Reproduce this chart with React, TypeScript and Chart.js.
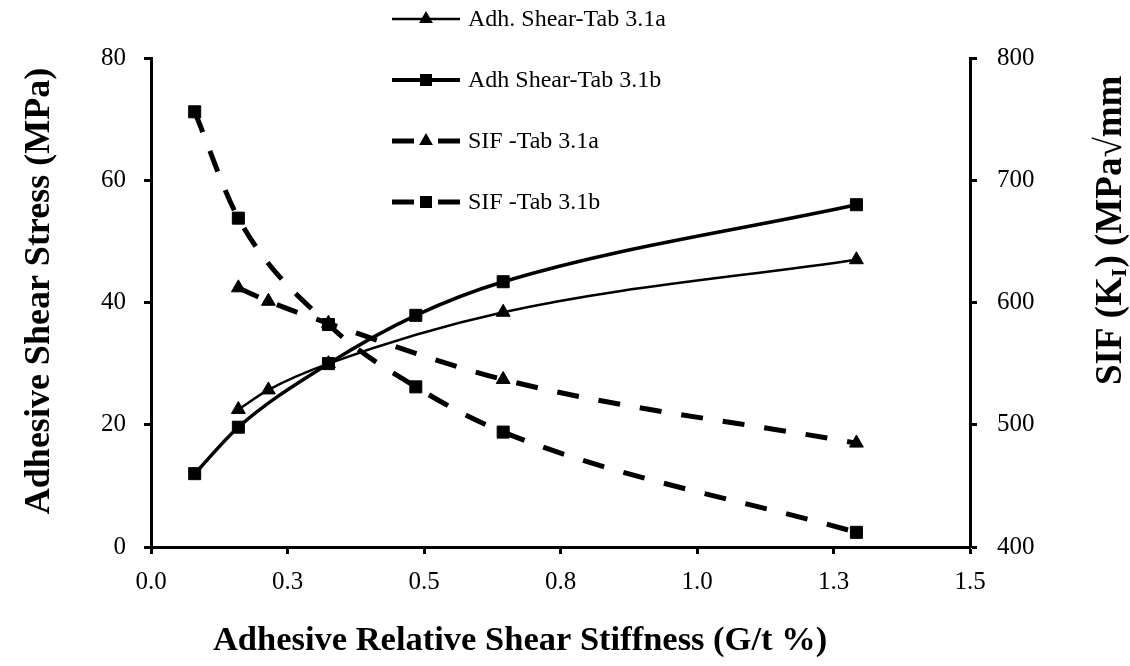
import React, { useEffect, useRef } from "react";
import { Chart, registerables } from "chart.js";

Chart.register(...registerables);

// ---- data ----
const xTab31b = [0.08, 0.16, 0.325, 0.485, 0.645, 1.292];
const adhShearTab31b = [12.0, 19.6, 30.0, 37.9, 43.4, 56.0];
const sifTab31b = [756, 669, 582, 531, 494, 412];

const xTab31a = [0.16, 0.215, 0.325, 0.645, 1.292];
const adhShearTab31a = [22.5, 25.7, 30.0, 38.4, 47.0];
const sifTab31a = [612, 601, 583, 537, 485];

const xTickLabels = ["0.0", "0.3", "0.5", "0.8", "1.0", "1.3", "1.5"];
const seriesLabels = [
  "Adh. Shear-Tab 3.1a",
  "Adh Shear-Tab 3.1b",
  "SIF -Tab 3.1a",
  "SIF -Tab 3.1b",
];
const xTitle = "Adhesive Relative Shear Stiffness (G/t %)";
const yLeftTitle = "Adhesive Shear Stress (MPa)";

const SERIF = "'Liberation Serif', 'Times New Roman', serif";

function pts(xs: number[], ys: number[]) {
  return xs.map((x, i) => ({ x, y: ys[i] }));
}

function drawMarker(ctx: CanvasRenderingContext2D, style: string, x: number, y: number) {
  ctx.fillStyle = "#000";
  if (style === "rect") {
    ctx.fillRect(x - 6, y - 6, 12, 12);
  } else {
    const r = 8;
    ctx.beginPath();
    ctx.moveTo(x, y - r);
    ctx.lineTo(x + r * 0.866, y + r * 0.5);
    ctx.lineTo(x - r * 0.866, y + r * 0.5);
    ctx.closePath();
    ctx.fill();
  }
}

const overlayPlugin = {
  id: "overlay",
  afterDraw(chart: any) {
    const ctx: CanvasRenderingContext2D = chart.ctx;
    ctx.save();
    ctx.fillStyle = "#000";
    ctx.strokeStyle = "#000";

    // X title
    ctx.font = `bold 34.5px ${SERIF}`;
    ctx.textAlign = "center";
    ctx.textBaseline = "middle";
    ctx.fillText(xTitle, 520, 641);

    // Left title
    ctx.save();
    ctx.font = `bold 36px ${SERIF}`;
    ctx.translate(40, 291);
    ctx.rotate(-Math.PI / 2);
    ctx.fillText(yLeftTitle, 0, 0);
    ctx.restore();

    // Right title: SIF (K_I) (MPa√mm
    ctx.save();
    ctx.translate(1111, 385);
    ctx.rotate(-Math.PI / 2);
    ctx.textAlign = "left";
    ctx.textBaseline = "middle";
    let cx = 0;
    const part1 = "SIF (K";
    ctx.font = `bold 37px ${SERIF}`;
    ctx.fillText(part1, cx, 0);
    cx += ctx.measureText(part1).width;
    ctx.font = `bold 22px ${SERIF}`;
    ctx.fillText("I", cx, 9);
    cx += ctx.measureText("I").width + 1;
    ctx.font = `bold 37px ${SERIF}`;
    const part2 = ") (MPa\u221Amm";
    ctx.fillText(part2, cx, 0);
    ctx.restore();

    // Legend
    const rows = [19, 80, 141, 202];
    const styles = [
      { dash: false, w: 2.5, marker: "triangle" },
      { dash: false, w: 4, marker: "rect" },
      { dash: true, w: 5, marker: "triangle" },
      { dash: true, w: 5, marker: "rect" },
    ];
    ctx.font = `24px ${SERIF}`;
    ctx.textAlign = "left";
    ctx.textBaseline = "middle";
    rows.forEach((y, i) => {
      const s = styles[i];
      ctx.lineWidth = s.w;
      ctx.lineCap = "butt";
      ctx.beginPath();
      if (s.dash) {
        ctx.moveTo(392, y);
        ctx.lineTo(414, y);
        ctx.moveTo(438, y);
        ctx.lineTo(460, y);
      } else {
        ctx.moveTo(392, y);
        ctx.lineTo(460, y);
      }
      ctx.stroke();
      drawMarker(ctx, s.marker, 426, y);
      ctx.fillStyle = "#000";
      ctx.fillText(seriesLabels[i], 468, y + 1);
    });
    ctx.restore();
  },
};

export default function App() {
  const ref = useRef<HTMLCanvasElement | null>(null);

  useEffect(() => {
    if (!ref.current) return;
    const tickFont = { family: SERIF, size: 25 };
    const axisGrid = {
      drawOnChartArea: false,
      drawTicks: true,
      tickLength: 7,
      tickWidth: 3,
      color: "#000",
    };
    const axisBorder = { color: "#000", width: 3 };

    const common = {
      borderColor: "#000",
      backgroundColor: "#000",
      cubicInterpolationMode: "monotone" as const,
      pointBorderWidth: 1,
    };

    const chart = new Chart(ref.current, {
      type: "line",
      data: {
        datasets: [
          {
            ...common,
            label: seriesLabels[0],
            data: pts(xTab31a, adhShearTab31a),
            yAxisID: "y",
            borderWidth: 2.5,
            pointStyle: "triangle",
            pointRadius: 8,
          },
          {
            ...common,
            label: seriesLabels[1],
            data: pts(xTab31b, adhShearTab31b),
            yAxisID: "y",
            borderWidth: 3.5,
            pointStyle: "rect",
            pointRadius: 8.5,
          },
          {
            ...common,
            label: seriesLabels[2],
            data: pts(xTab31a, sifTab31a),
            yAxisID: "y1",
            borderWidth: 5,
            borderDash: [22, 20],
            pointStyle: "triangle",
            pointRadius: 8,
          },
          {
            ...common,
            label: seriesLabels[3],
            data: pts(xTab31b, sifTab31b),
            yAxisID: "y1",
            borderWidth: 5,
            borderDash: [22, 20],
            pointStyle: "rect",
            pointRadius: 8.5,
          },
        ],
      },
      options: {
        responsive: false,
        animation: false,
        layout: { padding: { top: 58, left: 0, right: 0, bottom: 0 } },
        plugins: {
          legend: { display: false },
          tooltip: { enabled: false },
          title: { display: false },
        },
        scales: {
          x: {
            type: "linear",
            position: "bottom",
            min: 0,
            max: 1.5,
            grid: axisGrid,
            border: axisBorder,
            ticks: {
              stepSize: 0.25,
              font: tickFont,
              color: "#000",
              padding: 13,
              maxRotation: 0,
              autoSkip: false,
              callback: (_v: any, i: number) => xTickLabels[i],
            },
            afterFit: (s: any) => {
              s.height = 119;
            },
          },
          y: {
            type: "linear",
            position: "left",
            min: 0,
            max: 80,
            grid: axisGrid,
            border: axisBorder,
            ticks: { stepSize: 20, font: tickFont, color: "#000", padding: 18 },
            afterFit: (s: any) => {
              s.width = 151;
            },
          },
          y1: {
            type: "linear",
            position: "right",
            min: 400,
            max: 800,
            grid: axisGrid,
            border: axisBorder,
            ticks: { stepSize: 100, font: tickFont, color: "#000", padding: 20 },
            afterFit: (s: any) => {
              s.width = 160;
            },
          },
        },
      },
      plugins: [overlayPlugin],
    });
    return () => chart.destroy();
  }, []);

  return (
    <div style={{ position: "fixed", left: 0, top: 0, width: 1130, height: 666, background: "#fff" }}>
      <canvas ref={ref} width={1130} height={666} style={{ display: "block" }} />
    </div>
  );
}
